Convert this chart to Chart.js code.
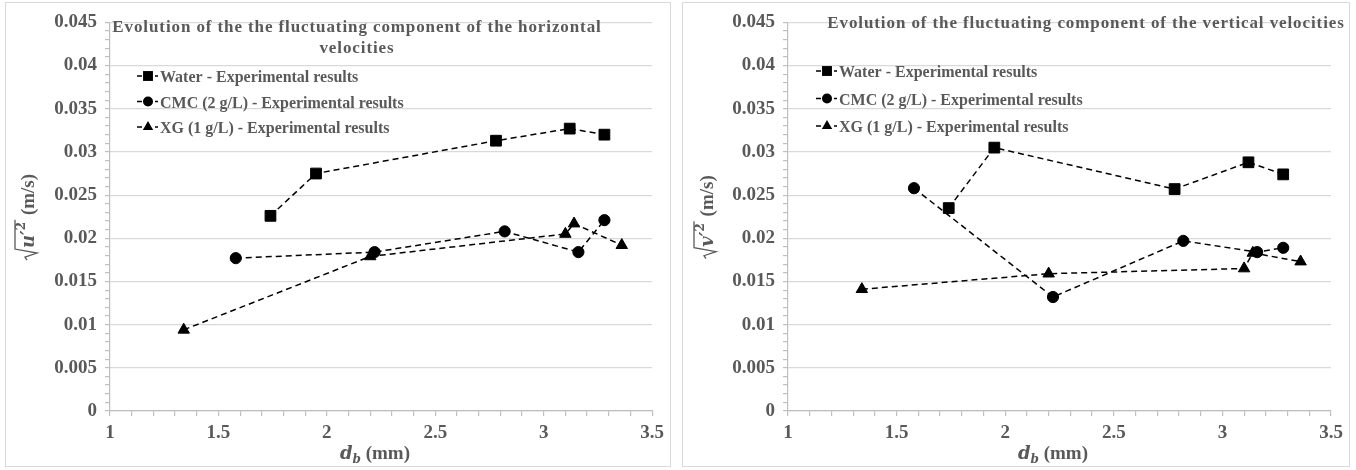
<!DOCTYPE html>
<html>
<head>
<meta charset="utf-8">
<script src="https://cdn.jsdelivr.net/npm/chart.js@4.4.1/dist/chart.umd.min.js"></script>
<style>
  html, body { margin: 0; padding: 0; background: #fff; }
  body { width: 1356px; height: 470px; position: relative; overflow: hidden; }
  .panel { position: absolute; top: 2px; height: 463px; border: 1px solid #d9d9d9; background: #fff; }
  #panel-u { left: 5px; width: 664px; }
  #panel-v { left: 682px; width: 666px; }
  canvas { display: block; }
</style>
</head>
<body>
<div class="panel" id="panel-u"><canvas id="chart-u" width="664" height="463"></canvas></div>
<div class="panel" id="panel-v"><canvas id="chart-v" width="666" height="463"></canvas></div>
<script>
// ==================== DATOS ====================
const SERIES = [
    'Water - Experimental results',
    'CMC (2 g/L) - Experimental results',
    'XG (1 g/L) - Experimental results',
];

// d_b (mm) de cada punto
const DB_WATER = [1.74, 1.95, 2.78, 3.12, 3.28];
const DB_CMC = [1.58, 2.22, 2.82, 3.16, 3.28];
const DB_XG = [1.34, 2.20, 3.10, 3.14, 3.36];

// componente fluctuante horizontal (m/s)
const U_WATER = [0.0226, 0.0275, 0.0313, 0.0327, 0.0320];
const U_CMC = [0.0177, 0.0184, 0.0208, 0.0184, 0.0221];
const U_XG = [0.0094, 0.0179, 0.0205, 0.0217, 0.0192];

// componente fluctuante vertical (m/s)
const V_WATER = [0.0235, 0.0305, 0.0257, 0.0288, 0.0274];
const V_CMC = [0.0258, 0.0132, 0.0197, 0.0184, 0.0189];
const V_XG = [0.0141, 0.0159, 0.0165, 0.0183, 0.0173];

const X_TICKS = ['1', '1.5', '2', '2.5', '3', '3.5'];
const Y_TICKS = ['0', '0.005', '0.01', '0.015', '0.02', '0.025', '0.03', '0.035', '0.04', '0.045'];

// ==================== ESTILO ====================
const GRIS = '#595959';
const SERIF = '"Liberation Serif", "Times New Roman", serif';
const MATH = '"DejaVu Serif", serif';
const MARCAS = ['rect', 'circle', 'triangle'];
const RADIOS = [7.6, 5.6, 6.6];

function puntos(xs, ys) {
    return xs.map((x, i) => ({ x, y: ys[i] }));
}

// ticks principales (con etiqueta) + menores sin etiqueta, como en Excel
function ticksConMenores(etiquetas, subdiv) {
    const vals = etiquetas.map(Number);
    const out = [];
    vals.forEach((v, i) => {
        out.push({ value: v, principal: true, texto: etiquetas[i] });
        if (i < vals.length - 1) {
            const paso = (vals[i + 1] - v) / subdiv;
            for (let k = 1; k < subdiv; k++) out.push({ value: v + paso * k, principal: false, texto: '' });
        }
    });
    return out;
}

function armarDatasets(ys) {
    const xs = [DB_WATER, DB_CMC, DB_XG];
    return ys.map((y, i) => ({
        label: SERIES[i],
        data: puntos(xs[i], y),
        showLine: true,
        borderColor: '#000',
        borderWidth: 1.5,
        borderDash: [6, 4],
        backgroundColor: '#000',
        pointStyle: MARCAS[i],
        pointRadius: RADIOS[i],
        pointHoverRadius: RADIOS[i],
        pointBorderWidth: 1,
        pointBackgroundColor: '#000',
        pointBorderColor: '#000',
    }));
}

function marca(ctx, estilo, x, y, r) {
    ctx.beginPath();
    if (estilo === 'rect') {
        const s = r * Math.SQRT1_2;
        ctx.rect(x - s, y - s, 2 * s, 2 * s);
    } else if (estilo === 'circle') {
        ctx.arc(x, y, r, 0, Math.PI * 2);
    } else {
        ctx.moveTo(x, y - r);
        ctx.lineTo(x + r * 0.866, y + r * 0.5);
        ctx.lineTo(x - r * 0.866, y + r * 0.5);
        ctx.closePath();
    }
    ctx.fill();
}

function tituloY(ctx, variable, bx, cy) {
    ctx.save();
    ctx.translate(bx, cy);
    ctx.rotate(-Math.PI / 2);
    const fVar = `bold italic 18px ${MATH}`;
    const fSup = `bold 12px ${MATH}`;
    const fUni = `bold 19px ${SERIF}`;
    ctx.font = fVar; const wVar = ctx.measureText(variable + '′').width;
    ctx.font = fSup; const wSup = ctx.measureText('2').width;
    ctx.font = fUni; const wUni = ctx.measureText(' (m/s)').width;
    const wRad = 12;
    const total = wRad + wVar + wSup + 2 + wUni;
    let x = -total / 2;

    ctx.strokeStyle = GRIS;
    ctx.fillStyle = GRIS;
    ctx.lineWidth = 1.3;
    ctx.beginPath();
    ctx.moveTo(x, -7);
    ctx.lineTo(x + 3, -9);
    ctx.lineTo(x + 7, 3);
    ctx.lineTo(x + 11, -19);
    ctx.lineTo(x + wRad + wVar + wSup + 2, -19);
    ctx.stroke();

    x += wRad;
    ctx.textAlign = 'left';
    ctx.textBaseline = 'alphabetic';
    ctx.font = fVar; ctx.fillText(variable + '′', x, 0); x += wVar;
    ctx.font = fSup; ctx.fillText('2', x, -9); x += wSup + 2;
    ctx.font = fUni; ctx.fillText(' (m/s)', x, 0);
    ctx.restore();
}

function tituloX(ctx, cx, base) {
    const fD = `bold italic 18px ${MATH}`;
    const fSub = `bold italic 12px ${MATH}`;
    const fUni = `bold 19px ${SERIF}`;
    ctx.font = fD; const wD = ctx.measureText('d').width;
    ctx.font = fSub; const wB = ctx.measureText('b').width;
    ctx.font = fUni; const wU = ctx.measureText(' (mm)').width;
    let x = cx - (wD + wB + wU) / 2;
    ctx.textAlign = 'left';
    ctx.textBaseline = 'alphabetic';
    ctx.font = fD; ctx.fillText('d', x, base); x += wD;
    ctx.font = fSub; ctx.fillText('b', x, base + 4); x += wB;
    ctx.font = fUni; ctx.fillText(' (mm)', x, base);
}

// Titulo, leyenda y titulos de ejes dibujados encima del area (como el grafico de Excel)
const textosExcel = {
    id: 'textosExcel',
    afterDraw(chart, args, o) {
        const ctx = chart.ctx;
        ctx.save();
        ctx.fillStyle = GRIS;

        ctx.font = `bold 17px ${SERIF}`;
        ctx.letterSpacing = '0.9px';
        ctx.textAlign = 'center';
        ctx.textBaseline = 'alphabetic';
        o.titulo.forEach((linea, i) => ctx.fillText(linea, o.tituloX, o.tituloY + i * 21));
        ctx.letterSpacing = '0px';

        chart.data.datasets.forEach((ds, i) => {
            const base = o.leyendaY + i * o.leyendaPaso;
            const my = base - 6;
            ctx.save();
            ctx.strokeStyle = '#000';
            ctx.lineWidth = 1.5;
            ctx.setLineDash([5, 4]);
            ctx.beginPath();
            ctx.moveTo(o.leyendaX - 11, my);
            ctx.lineTo(o.leyendaX + 10, my);
            ctx.stroke();
            ctx.fillStyle = '#000';
            marca(ctx, ds.pointStyle, o.leyendaX, my, [7, 5, 6][i]);
            ctx.restore();
            ctx.font = `bold 16px ${SERIF}`;
            ctx.textAlign = 'left';
            ctx.fillText(ds.label, o.leyendaX + 12, base);
        });

        tituloY(ctx, o.variable, o.ejeYX, o.ejeYCentro);
        tituloX(ctx, o.ejeXCentro, o.ejeXBase);
        ctx.restore();
    },
};

function opcionesEscala(etiquetas, eje) {
    const esY = eje === 'y';
    return {
        type: 'linear',
        min: Number(etiquetas[0]),
        max: Number(etiquetas[etiquetas.length - 1]),
        afterBuildTicks: s => { s.ticks = ticksConMenores(etiquetas, 5); },
        afterFit: s => {
            if (esY) s.width = s.chart.canvas.id === 'chart-u' ? 104 : 105;
            else s.height = 55;
        },
        ticks: {
            autoSkip: false,
            maxRotation: 0,
            padding: esY ? 8 : 6,
            color: GRIS,
            font: { family: SERIF, size: 19, weight: 'bold' },
            callback: (v, i, ticks) => ticks[i].texto,
        },
        grid: {
            drawOnChartArea: esY,
            color: c => (c.tick && c.tick.principal ? '#d9d9d9' : 'rgba(0,0,0,0)'),
            lineWidth: 1.2,
            tickColor: '#bfbfbf',
            tickLength: 5,
        },
        border: { display: true, color: '#bfbfbf', width: 1.2 },
    };
}

function crearGrafico(id, ys, extra) {
    return new Chart(document.getElementById(id), {
        type: 'scatter',
        data: { datasets: armarDatasets(ys) },
        options: {
            responsive: false,
            animation: false,
            devicePixelRatio: 1,
            layout: { padding: { top: 11, right: extra.derecha, left: 0, bottom: 0 } },
            plugins: {
                legend: { display: false },
                title: { display: false },
                tooltip: { enabled: false },
                textosExcel: extra,
            },
            scales: {
                x: opcionesEscala(X_TICKS, 'x'),
                y: opcionesEscala(Y_TICKS, 'y'),
            },
        },
        plugins: [textosExcel],
    });
}

crearGrafico('chart-u', [U_WATER, U_CMC, U_XG], {
    derecha: 17,
    titulo: ['Evolution of the the fluctuating component of the horizontal', 'velocities'],
    tituloX: 351, tituloY: 29,
    leyendaX: 142, leyendaY: 79, leyendaPaso: 25.5,
    variable: 'u', ejeYX: 28, ejeYCentro: 214,
    ejeXCentro: 369, ejeXBase: 456,
});

crearGrafico('chart-v', [V_WATER, V_CMC, V_XG], {
    derecha: 18,
    titulo: ['Evolution of the fluctuating component of the vertical velocities'],
    tituloX: 403, tituloY: 25,
    leyendaX: 144, leyendaY: 74, leyendaPaso: 27.5,
    variable: 'v', ejeYX: 30, ejeYCentro: 214,
    ejeXCentro: 370, ejeXBase: 456,
});
</script>
</body>
</html>
